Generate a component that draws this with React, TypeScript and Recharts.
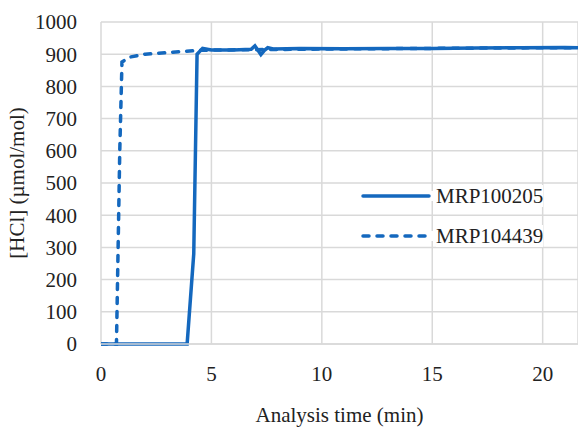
import { LineChart, Line, XAxis, YAxis, CartesianGrid, Label } from 'recharts';

const solidTime = [0, 3.9, 4.2, 4.35, 4.6, 5, 6, 6.8, 6.97, 7.24, 7.4, 7.55, 7.8, 9, 11, 13, 15, 17, 19, 21, 21.6];
const solidHcl = [0, 0, 280, 900, 918, 913, 913, 915, 926, 899, 912, 920, 916, 918, 917, 918, 918, 919, 920, 921, 920];

const dashTime = [0, 0.7, 0.85, 0.95, 1.3, 2, 3, 3.6, 4.5, 5, 7, 10, 15, 20, 21.6];
const dashHcl = [0, 0, 600, 876, 891, 900, 905, 908, 912, 913, 914, 916, 918, 920, 920];

const xTicks = [0, 5, 10, 15, 20];
const yTicks = [0, 100, 200, 300, 400, 500, 600, 700, 800, 900, 1000];

const seriesNames = ['MRP100205', 'MRP104439'];

const BLUE = '#1468BE';
const FONT = '"Liberation Serif", "Times New Roman", serif';
const DASH = '6 8';

const solidRows = solidTime.map((t, i) => ({ t, v: solidHcl[i] }));
const dashRows = dashTime.map((t, i) => ({ t, v: dashHcl[i] }));

// legend sits inside the plot, drawn over the grid
function LegendBox() {
  return (
    <div
      style={{
        position: 'absolute',
        left: 358,
        top: 176,
        fontFamily: FONT,
        fontSize: 21,
        color: '#222',
      }}
    >
      {seriesNames.map((name, i) => (
        <div key={name} style={{ display: 'flex', alignItems: 'center', height: 40 }}>
          <svg width={76} height={10} style={{ background: '#fff' }}>
            <line
              x1={5}
              y1={5}
              x2={71}
              y2={5}
              stroke={BLUE}
              strokeWidth={3.5}
              strokeLinecap="round"
              strokeDasharray={i === 1 ? DASH : undefined}
            />
          </svg>
          <span style={{ marginLeft: 2, background: '#fff', lineHeight: '22px' }}>{name}</span>
        </div>
      ))}
    </div>
  );
}

export default function App() {
  return (
    <div style={{ position: 'absolute', left: 0, top: 0, width: 578, height: 428 }}>
      <LineChart width={578} height={428} margin={{ top: 22, right: 0, bottom: 0, left: 0 }}>
        <CartesianGrid stroke="#d9d9d9" strokeWidth={1.5} />
        <XAxis
          type="number"
          dataKey="t"
          domain={[0, 21.6]}
          ticks={xTicks}
          interval={0}
          allowDataOverflow
          height={84}
          axisLine={{ stroke: '#d9d9d9', strokeWidth: 1.5 }}
          tickLine={false}
          tick={{ fill: '#222', fontSize: 21, fontFamily: FONT }}
          tickMargin={16}
        >
          <Label value="Analysis time (min)" position="insideBottom" offset={6} style={{ fill: '#222', fontSize: 21, fontFamily: FONT }} />
        </XAxis>
        <YAxis
          type="number"
          domain={[0, 1000]}
          ticks={yTicks}
          interval={0}
          width={101}
          axisLine={false}
          tickLine={false}
          tick={{ fill: '#222', fontSize: 21, fontFamily: FONT }}
          tickMargin={18}
        >
          <Label value="[HCl] (µmol/mol)" angle={-90} position="insideLeft" offset={17} style={{ textAnchor: 'middle', fill: '#222', fontSize: 21, fontFamily: FONT }} />
        </YAxis>
        <Line
          data={solidRows}
          dataKey="v"
          name={seriesNames[0]}
          type="linear"
          stroke={BLUE}
          strokeWidth={3.5}
          dot={false}
          isAnimationActive={false}
        />
        <Line
          data={dashRows}
          dataKey="v"
          name={seriesNames[1]}
          type="linear"
          stroke={BLUE}
          strokeWidth={3.5}
          strokeDasharray={DASH}
          strokeLinecap="round"
          dot={false}
          isAnimationActive={false}
        />
      </LineChart>
      <LegendBox />
    </div>
  );
}
